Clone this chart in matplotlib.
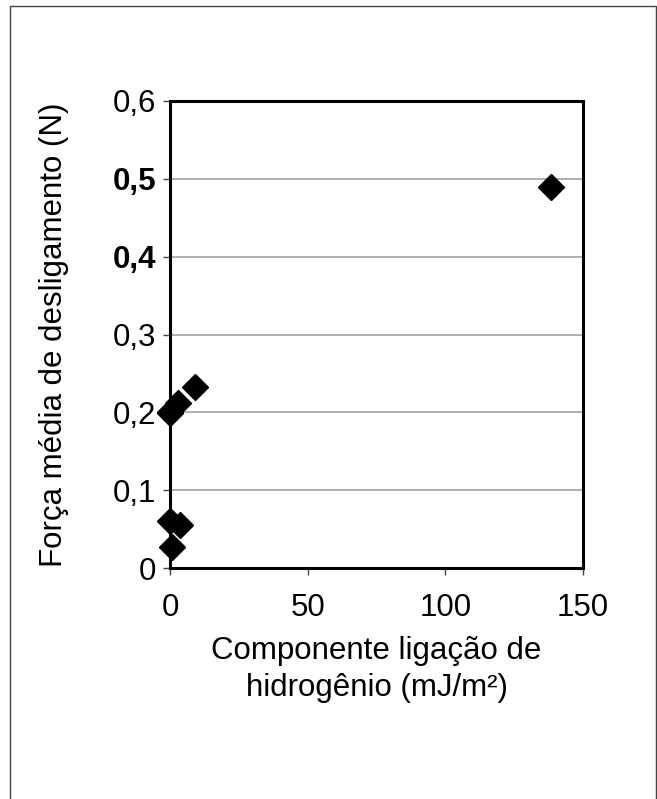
import matplotlib.pyplot as plt
from matplotlib.patches import Rectangle

# data
energia = [0.0, 0.6, 0.0, 3.6, 0.0, 2.9, 9.1, 138.3]
forca = [0.200, 0.027, 0.060, 0.055, 0.199, 0.212, 0.233, 0.490]

y_ticks = [0, 0.1, 0.2, 0.3, 0.4, 0.5, 0.6]
y_labels = ['0', '0,1', '0,2', '0,3', '0,4', '0,5', '0,6']
x_ticks = [0, 50, 100, 150]

plt.rcParams['font.family'] = ['Liberation Sans', 'DejaVu Sans']
fs = 22.5

fig = plt.figure(figsize=(6.57, 7.99), dpi=100)
W, H = 657, 799
ax = fig.add_axes([170 / W, 1 - 568 / H, 413 / W, 467 / H])

# outer frame of the picture (bottom edge runs off the image)
fig.patches.append(Rectangle((10 / W, -0.02), 646 / W, 1.02 - 6 / H, transform=fig.transFigure,
                             fill=False, edgecolor='#444444', linewidth=1.0))

for y in y_ticks[1:-1]:
    ax.axhline(y, color='#999999', linewidth=1.1, zorder=1)

ax.plot(energia, forca, linestyle='none', marker='D', markersize=13,
        color='black', zorder=3, clip_on=False)

ax.set_xlim(0, 150)
ax.set_ylim(0, 0.6)
ax.set_xticks(x_ticks)
ax.set_yticks(y_ticks)
ax.set_yticklabels(y_labels)
for lab in ax.get_yticklabels():
    if lab.get_text() in ('0,4', '0,5'):
        lab.set_fontweight('bold')

ax.tick_params(axis='both', labelsize=fs, length=5, width=1, color='#444444',
               direction='out')
ax.tick_params(axis='y', pad=5)
ax.tick_params(axis='x', pad=13)
for sp in ax.spines.values():
    sp.set_linewidth(2.2)
    sp.set_color('black')

ax.set_xlabel('Componente ligação de\nhidrogênio (mJ/m²)', fontsize=fs, linespacing=1.3)
ax.xaxis.set_label_coords(0.5, -0.145)
ax.set_ylabel('Força média de desligamento (N)', fontsize=fs)
ax.yaxis.set_label_coords(-0.245, 0.5)

fig.savefig('out.png', dpi=100)
